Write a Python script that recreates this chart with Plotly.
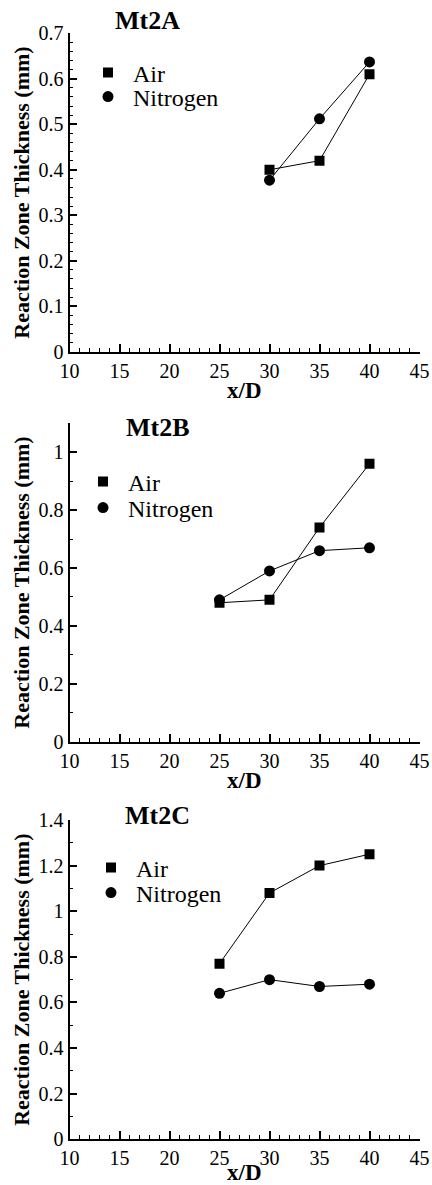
import plotly.graph_objects as go

W, H = 432, 1185

panels = ["Mt2A", "Mt2B", "Mt2C"]

x_2a = [30, 35, 40]
air_2a = [0.40, 0.42, 0.61]
n2_2a = [0.377, 0.512, 0.637]

x_2b = [25, 30, 35, 40]
air_2b = [0.48, 0.49, 0.74, 0.96]
n2_2b = [0.49, 0.59, 0.66, 0.67]

x_2c = [25, 30, 35, 40]
air_2c = [0.77, 1.08, 1.20, 1.25]
n2_2c = [0.64, 0.70, 0.67, 0.68]

y_ranges = [[0, 0.7], [0, 1.1], [0, 1.4]]
y_dticks = [0.1, 0.2, 0.2]
y_minor = [0.02, 0.1, 0.1]

x_ticks = [10, 15, 20, 25, 30, 35, 40, 45]

data = [(x_2a, air_2a, n2_2a), (x_2b, air_2b, n2_2b), (x_2c, air_2c, n2_2c)]

# layout geometry in pixels
x_left, x_right = 69.5, 419.5
y_px = [(33.3, 351.7), (423.3, 741.7), (820.0, 1139.3)]
title_px = [(113, 20), (124, 427), (123, 815)]
xtitle_py = [390, 780, None]
legend_px = [(73, 97), (482, 508), (868, 893)]
legend_x = [108, 103, 111]

FONT = "Liberation Serif, Times New Roman, serif"

fig = go.Figure()
layout = dict(
    width=W, height=H,
    margin=dict(l=0, r=0, t=0, b=0, autoexpand=False),
    paper_bgcolor="white", plot_bgcolor="white",
    font=dict(family=FONT, color="black", size=20),
    annotations=[],
)

for i, (xs, air, n2) in enumerate(data):
    k = "" if i == 0 else str(i + 1)
    xa, ya = "x" + k, "y" + k
    la_air = "legend" + ("" if i == 0 else str(2 * i + 1))
    la_n2 = "legend" + str(2 * i + 2)
    fig.add_trace(go.Scatter(x=xs, y=air, mode="lines", line=dict(color="black", width=1),
                             showlegend=False, xaxis=xa, yaxis=ya, hoverinfo="skip"))
    fig.add_trace(go.Scatter(x=xs, y=n2, mode="lines", line=dict(color="black", width=1),
                             showlegend=False, xaxis=xa, yaxis=ya, hoverinfo="skip"))
    fig.add_trace(go.Scatter(x=xs, y=air, mode="markers", name="Air",
                             marker=dict(symbol="square", size=10, color="black"),
                             xaxis=xa, yaxis=ya, legend=la_air))
    fig.add_trace(go.Scatter(x=xs, y=n2, mode="markers", name="Nitrogen",
                             marker=dict(symbol="circle", size=11, color="black"),
                             xaxis=xa, yaxis=ya, legend=la_n2))

    top, bot = y_px[i]
    axis_common = dict(showline=True, linecolor="black", linewidth=1.8,
                       ticks="inside", tickcolor="black", tickwidth=1.5,
                       showgrid=False, zeroline=False, automargin=False,
                       tickfont=dict(family=FONT, size=20, color="black"))
    layout["xaxis" + k] = dict(
        axis_common, domain=[x_left / W, x_right / W], range=[10, 45],
        tickvals=x_ticks, ticklen=8, anchor=ya,
        minor=dict(dtick=1, ticklen=4, ticks="inside", tickcolor="black", tickwidth=1.2),
    )
    layout["yaxis" + k] = dict(
        axis_common, domain=[1 - bot / H, 1 - top / H], range=y_ranges[i],
        dtick=y_dticks[i], tick0=0, ticklen=8, anchor=xa,
        minor=dict(dtick=y_minor[i], ticklen=4, ticks="inside", tickcolor="black", tickwidth=1.2),
        title=dict(text="<b>Reaction Zone Thickness (mm)</b>",
                   font=dict(family=FONT, size=22, color="black"), standoff=3),
    )
    tx, ty = title_px[i]
    layout["annotations"].append(dict(
        text="<b>" + panels[i] + "</b>", xref="paper", yref="paper",
        x=tx / W, y=1 - ty / H, xanchor="left", yanchor="middle", showarrow=False,
        font=dict(family=FONT, size=26, color="black")))
    if xtitle_py[i] is not None:
        ypos, yanc, ysh = 1 - xtitle_py[i] / H, "middle", 0
    else:
        ypos, yanc, ysh = 0, "bottom", -2
    layout["annotations"].append(dict(
        text="<b>x/D</b>", xref="paper", yref="paper",
        x=(x_left + x_right) / 2 / W, y=ypos, xanchor="center", yanchor=yanc, yshift=ysh,
        showarrow=False, font=dict(family=FONT, size=23, color="black")))
    for name, yy in ((la_air, legend_px[i][0]), (la_n2, legend_px[i][1])):
        layout[name] = dict(x=(legend_x[i] - 25) / W, y=1 - yy / H, xanchor="left", yanchor="middle",
                            bgcolor="rgba(0,0,0,0)", borderwidth=0, itemwidth=40,
                            font=dict(family=FONT, size=24, color="black"))

fig.update_layout(**layout)
fig.write_html("out.html", config={"displayModeBar": False},
               post_script="document.body.style.margin='0';document.body.style.padding='0';")
